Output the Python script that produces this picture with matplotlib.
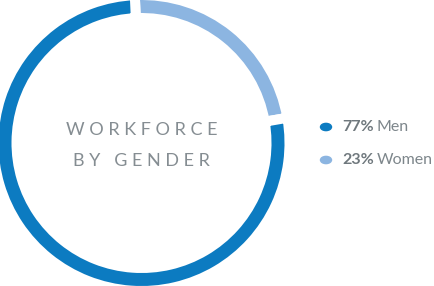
import numpy as np
import matplotlib.pyplot as plt

# workforce split
groups = ["Men", "Women"]
shares = [77, 23]
colors = ["#0c7bc1", "#8cb5e1"]

fig = plt.figure(figsize=(4.35, 2.86), dpi=100)

# ring: 286px square, 1 unit = 143 px
ax = fig.add_axes([-1.5 / 435, 0, 286 / 435, 1])
gap = 10.0     # px between segments
ring = 13.0    # px ring thickness
px = 143.0
ax.pie(shares[::-1], colors=colors[::-1], startangle=92.6, counterclock=False,
       radius=(px + gap / 2) / px,
       wedgeprops=dict(width=(ring + gap) / px, edgecolor="white", linewidth=gap * 0.72))
ax.set_xlim(-1, 1)
ax.set_ylim(-1, 1)
ax.set_aspect("equal")
ax.axis("off")

grey = "#7d868b"
ax.text(0, 0.09, "W O R K F O R C E", ha="center", va="center", fontsize=13,
        color="#858d92", family="Lato")
ax.text(0, -0.125, "B Y   G E N D E R", ha="center", va="center", fontsize=13,
        color="#858d92", family="Lato")

# legend
ys = [127, 160]
for g, s, c, y in zip(groups, shares, colors, ys):
    yf = 1 - y / 286
    fig.patches.append(plt.Circle((326 / 435, yf), 5.5 / 435, transform=fig.transFigure,
                                  color=c))
    t = fig.text(342 / 435, yf, "%d%%" % s, ha="left", va="center", fontsize=11.5,
                 color="#6f787d", family="Lato", fontweight="bold")
    fig.canvas.draw()
    bb = t.get_window_extent()
    fig.text(bb.x1 / 435 + 3 / 435, yf, g, ha="left", va="center", fontsize=11.5,
             color=grey, family="Lato")

fig.savefig("out.png", dpi=100)
